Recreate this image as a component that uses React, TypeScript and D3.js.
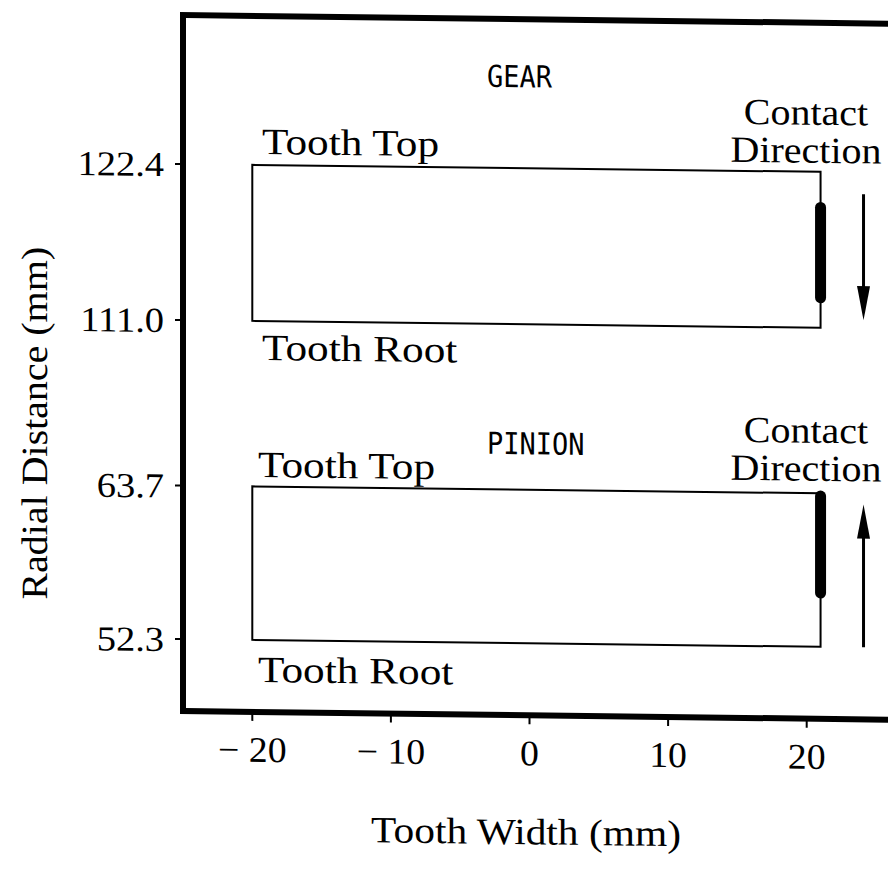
import React from "react";
import * as d3 from "d3";

// ---- data ----
const xTicks = [-20, -10, 0, 10, 20];
const xTickLabels = ["\u2212 20", "\u2212 10", "0", "10", "20"];
const gearTicks = [111.0, 122.4];
const pinionTicks = [52.3, 63.7];
const toothWidth = [-20, 21];
const gearRadial = [111.0, 122.4];
const pinionRadial = [52.3, 63.7];
const gearContact = [113.2, 119.8];
const pinionContact = [56.3, 63.5];
const gearArrow = [120.8, 111.6]; // from -> to (downward)
const pinionArrow = [52.3, 62.9]; // from -> to (upward)
const contactX = 21;
const arrowX = 24.1;

const W = 888;
const H = 879;
const SERIF = "'Liberation Serif', 'DejaVu Serif', serif";
const MONO = "'DejaVu Sans Mono', 'Liberation Mono', monospace";

type TP = {
  x: number;
  y: number;
  sx?: number;
  sy?: number;
  rot?: number;
  anchor?: "start" | "middle" | "end";
  size: number;
  family?: string;
  dy?: string;
  children: React.ReactNode;
};

function T({ x, y, sx = 1, sy = 1, rot = 0, anchor = "start", size, family = SERIF, dy, children }: TP) {
  return (
    <text
      transform={`translate(${x},${y}) rotate(${rot}) scale(${sx},${sy})`}
      textAnchor={anchor}
      fontFamily={family}
      fontSize={size}
      dy={dy}
      fill="#000"
    >
      {children}
    </text>
  );
}

export default function App() {
  const x = d3.scaleLinear().domain([-25, 27]).range([183, 183 + 52 * 13.86]);
  const yGear = d3.scaleLinear().domain([111.0, 122.4]).range([320, 164]);
  const yPin = d3.scaleLinear().domain([52.3, 63.7]).range([639, 485.5]);
  const frameTop = 15;
  const frameBottom = 711;
  const k = Math.tan((0.7 * Math.PI) / 180);

  const arrow = (ys: d3.ScaleLinear<number, number>, a: number[], key: string) => {
    const xa = x(arrowX);
    const y0 = ys(a[0]);
    const y1 = ys(a[1]);
    const dir = y1 > y0 ? 1 : -1;
    const headLen = 34;
    const headW = 6.5;
    const yb = y1 - dir * headLen;
    return (
      <g key={key}>
        <line x1={xa} x2={xa} y1={y0} y2={yb + dir * 4} stroke="#000" strokeWidth={3} />
        <path d={`M${xa - headW},${yb} L${xa + headW},${yb} L${xa},${y1} Z`} fill="#000" />
      </g>
    );
  };

  const panel = (
    ys: d3.ScaleLinear<number, number>,
    radial: number[],
    contact: number[],
    key: string
  ) => (
    <g key={key}>
      <rect
        x={x(toothWidth[0])}
        y={ys(radial[1])}
        width={x(toothWidth[1]) - x(toothWidth[0])}
        height={ys(radial[0]) - ys(radial[1])}
        fill="none"
        stroke="#000"
        strokeWidth={2}
      />
      <line
        x1={x(contactX)}
        x2={x(contactX)}
        y1={ys(contact[1])}
        y2={ys(contact[0])}
        stroke="#000"
        strokeWidth={11}
        strokeLinecap="round"
      />
    </g>
  );

  return (
    <svg width={W} height={H} style={{ display: "block", position: "absolute", left: 0, top: 0 }}>
      <rect width={W} height={H} fill="#fff" />
      <g transform={`translate(0,${-k * 180}) skewY(0.7)`}>
        {/* frame */}
        <rect
          x={183}
          y={frameTop}
          width={x(27) - 183}
          height={frameBottom - frameTop}
          fill="none"
          stroke="#000"
          strokeWidth={6}
        />
        {/* y ticks */}
        {gearTicks.map((t) => (
          <g key={"g" + t}>
            <line x1={175} x2={183} y1={yGear(t)} y2={yGear(t)} stroke="#000" strokeWidth={2} />
            <T x={164} y={yGear(t)} dy="0.35em" anchor="end" size={35} sx={1.1}>
              {t.toFixed(1)}
            </T>
          </g>
        ))}
        {pinionTicks.map((t) => (
          <g key={"p" + t}>
            <line x1={175} x2={183} y1={yPin(t)} y2={yPin(t)} stroke="#000" strokeWidth={2} />
            <T x={164} y={yPin(t)} dy="0.35em" anchor="end" size={35} sx={1.1}>
              {t.toFixed(1)}
            </T>
          </g>
        ))}
        {/* x ticks */}
        {xTicks.map((t, i) => (
          <g key={"x" + t}>
            <line x1={x(t)} x2={x(t)} y1={frameBottom} y2={frameBottom + 9} stroke="#000" strokeWidth={2} />
            <T x={x(t)} y={761} anchor="middle" size={36} sx={1.05}>
              {xTickLabels[i]}
            </T>
          </g>
        ))}

        {panel(yGear, gearRadial, gearContact, "gear")}
        {panel(yPin, pinionRadial, pinionContact, "pinion")}
        {arrow(yGear, gearArrow, "ga")}
        {arrow(yPin, pinionArrow, "pa")}

        {/* annotations */}
        <T x={487} y={83} size={27} sy={1.12} family={MONO}>GEAR</T>
        <T x={487} y={450} size={27} sy={1.12} family={MONO}>PINION</T>

        <T x={262} y={153} size={37} sx={1.17}>Tooth Top</T>
        <T x={262} y={359} size={37} sx={1.17}>Tooth Root</T>
        <T x={258} y={476} size={37} sx={1.17}>Tooth Top</T>
        <T x={258} y={681} size={37} sx={1.17}>Tooth Root</T>

        <T x={806} y={117} anchor="middle" size={37} sx={1.08}>Contact</T>
        <T x={806} y={155} anchor="middle" size={37} sx={1.08}>Direction</T>
        <T x={806} y={435} anchor="middle" size={37} sx={1.08}>Contact</T>
        <T x={806} y={473} anchor="middle" size={37} sx={1.08}>Direction</T>

        {/* axis titles */}
        <T x={526} y={840} anchor="middle" size={37} sx={1.12}>
          Tooth Width (mm)
        </T>
        <T x={47} y={425} rot={-90} anchor="middle" size={37} sx={1.08}>
          Radial Distance (mm)
        </T>
      </g>
    </svg>
  );
}
